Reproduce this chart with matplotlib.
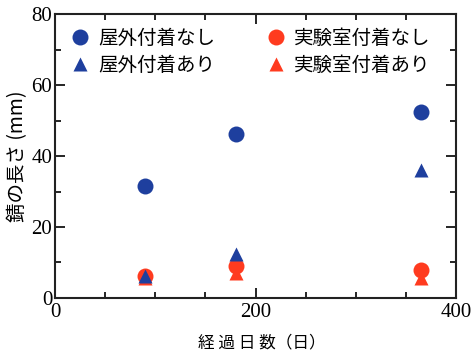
import matplotlib
matplotlib.use("Agg")
import matplotlib.pyplot as plt
from matplotlib.ticker import MultipleLocator

days = [90, 180, 365]
outdoor_none = [31.5, 46.3, 52.3]
outdoor_with = [6.3, 12.5, 36.0]
lab_none = [6.2, 9.0, 8.0]
lab_with = [5.5, 7.0, 5.5]

labels = ["屋外付着なし", "屋外付着あり", "実験室付着なし", "実験室付着あり"]
blue = "#1e3f9e"
red = "#ff3b1f"

cjk = ["Noto Sans CJK JP", "DejaVu Sans"]
serif = ["Liberation Serif", "DejaVu Serif"]

fig = plt.figure(figsize=(4.72, 3.53), dpi=100)
ax = fig.add_axes([0.1165, 0.156, 0.85, 0.804])

h_lr = ax.plot(days, lab_with, "^", color=red, ms=10, mec="none")[0]
h_lc = ax.plot(days, lab_none, "o", color=red, ms=11.5, mec="none")[0]
h_bc = ax.plot(days, outdoor_none, "o", color=blue, ms=11.5, mec="none")[0]
h_bt = ax.plot(days, outdoor_with, "^", color=blue, ms=10, mec="none")[0]

ax.set_xlim(0, 400)
ax.set_ylim(0, 80)
ax.xaxis.set_major_locator(MultipleLocator(200))
ax.xaxis.set_minor_locator(MultipleLocator(50))
ax.yaxis.set_major_locator(MultipleLocator(20))
ax.yaxis.set_minor_locator(MultipleLocator(10))
ax.tick_params(which="both", direction="in", top=True, right=True)
ax.tick_params(which="major", length=7, width=1.2, labelsize=15, pad=2)
ax.tick_params(axis="x", which="major", pad=4)
ax.tick_params(which="minor", length=4, width=1.2)
for lab in ax.get_xticklabels() + ax.get_yticklabels():
    lab.set_family(serif)
for s in ax.spines.values():
    s.set_linewidth(1.5)
    s.set_color("#222222")

ax.set_xlabel("経 過 日 数（日）", family=cjk, fontsize=12)
ax.xaxis.set_label_coords(0.515, -0.13)
ax.set_ylabel("錆の長さ (mm)", family=cjk, fontsize=14, labelpad=2)

leg = ax.legend([h_bc, h_bt, h_lc, h_lr], labels, ncol=2, frameon=False,
                loc="upper left", bbox_to_anchor=(-0.01, 1.0),
                prop={"family": cjk, "size": 14}, handletextpad=0.15,
                columnspacing=2.3, handlelength=1.6, labelspacing=0.3,
                borderaxespad=0.3)

fig.savefig("out.png", dpi=100)
